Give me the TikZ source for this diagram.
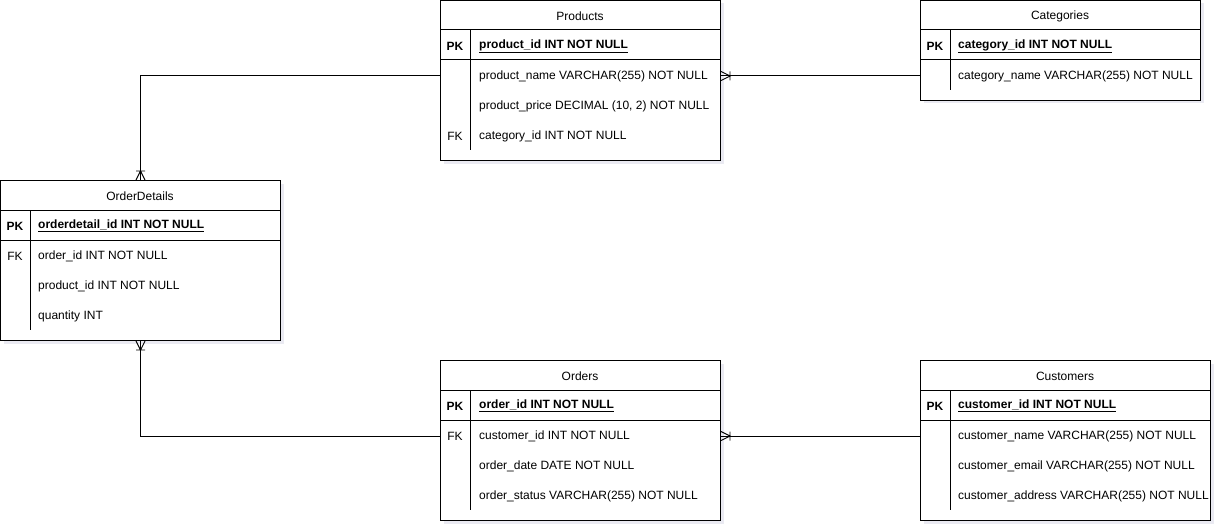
\documentclass[tikz,border=0pt]{standalone}
\usepackage{fontspec}
\setmainfont{Liberation Sans}
\usetikzlibrary{shadows}
\newcommand\erfnt{\fontsize{12}{14}\selectfont}
\newcommand\pkf[1]{\underline{\textbf{#1}}}
\begin{document}
\begin{tikzpicture}[x=1pt,y=-1pt,
  tbl/.style={draw, fill=white, line width=1pt, anchor=north west, inner sep=0pt,
    drop shadow={shadow xshift=3pt, shadow yshift=-3pt, opacity=0.2, fill=black!60!blue!40}},
  sep/.style={line width=1pt},
  txt/.style={inner sep=0pt, font=\erfnt, yshift=-1pt},
  fld/.style={txt, anchor=west},
  keyc/.style={txt, font=\erfnt\bfseries},
  keyf/.style={txt},
  ttl/.style={txt},
  conn/.style={line width=1pt},
  crow/.pic={\draw[line width=0.9pt] (0,-4.5) -- (9,0) -- (0,4.5) (9,-4.5) -- (9,4.5);}
]
\useasboundingbox[fill=white] (0,0) rectangle (1222,532);

% ---------- Products ----------
\node[tbl, minimum width=280pt, minimum height=160pt] (products) at (440,0) {};
\draw[sep] (440,30) -- (720,30) (440,60) -- (720,60) (470,30) -- (470,150);
\node[ttl] (products-t) at (580,15) {Products};
\node[keyc] (products-pk) at (455,45) {PK};
\node[fld] (pid) at (479,45) {\pkf{product\_id INT NOT NULL}};
\node[fld] (pname) at (479,75) {product\_name VARCHAR(255) NOT NULL};
\node[fld] (pprice) at (479,105) {product\_price DECIMAL (10, 2) NOT NULL};
\node[keyf] (products-fk) at (455,135) {FK};
\node[fld] (pcat) at (479,135) {category\_id INT NOT NULL};

% ---------- Categories ----------
\node[tbl, minimum width=280pt, minimum height=100pt] (categories) at (920,0) {};
\draw[sep] (920,30) -- (1200,30) (920,60) -- (1200,60) (950,30) -- (950,90);
\node[ttl] (categories-t) at (1060,15) {Categories};
\node[keyc] (categories-pk) at (935,45) {PK};
\node[fld] (cid) at (958,45) {\pkf{category\_id INT NOT NULL}};
\node[fld] (cname) at (958,75) {category\_name VARCHAR(255) NOT NULL};

% ---------- OrderDetails ----------
\node[tbl, minimum width=280pt, minimum height=160pt] (od) at (0,180) {};
\draw[sep] (0,210) -- (280,210) (0,240) -- (280,240) (30,210) -- (30,330);
\node[ttl] (od-t) at (140,195) {OrderDetails};
\node[keyc] (od-pk) at (15,225) {PK};
\node[fld] (odid) at (38,225) {\pkf{orderdetail\_id INT NOT NULL}};
\node[keyf] (od-fk) at (15,255) {FK};
\node[fld] (odoid) at (38,255) {order\_id INT NOT NULL};
\node[fld] (odpid) at (38,285) {product\_id INT NOT NULL};
\node[fld] (odq) at (38,315) {quantity INT};

% ---------- Orders ----------
\node[tbl, minimum width=280pt, minimum height=160pt] (orders) at (440,360) {};
\draw[sep] (440,390) -- (720,390) (440,420) -- (720,420) (470,390) -- (470,510);
\node[ttl] (orders-t) at (580,375) {Orders};
\node[keyc] (orders-pk) at (455,405) {PK};
\node[fld] (oid) at (479,405) {\pkf{order\_id INT NOT NULL}};
\node[keyf] (orders-fk) at (455,435) {FK};
\node[fld] (ocid) at (479,435) {customer\_id INT NOT NULL};
\node[fld] (odate) at (479,465) {order\_date DATE NOT NULL};
\node[fld] (ostat) at (479,495) {order\_status VARCHAR(255) NOT NULL};

% ---------- Customers ----------
\node[tbl, minimum width=290pt, minimum height=160pt] (customers) at (920,360) {};
\draw[sep] (920,390) -- (1210,390) (920,420) -- (1210,420) (950,390) -- (950,510);
\node[ttl] (customers-t) at (1065,375) {Customers};
\node[keyc] (customers-pk) at (935,405) {PK};
\node[fld] (cuid) at (958,405) {\pkf{customer\_id INT NOT NULL}};
\node[fld] (cuname) at (958,435) {customer\_name VARCHAR(255) NOT NULL};
\node[fld] (cumail) at (958,465) {customer\_email VARCHAR(255) NOT NULL};
\node[fld] (cuaddr) at (958,495) {customer\_address VARCHAR(255) NOT NULL};

% ---------- Connectors ----------
\draw[conn] (products.west |- pname.west) -| (od.north);
\pic[rotate=90] at (od.north) {crow};

\draw[conn] (categories.west |- cname.west) -- (products.east |- cname.west);
\path (products.east |- cname.west) pic {crow};

\draw[conn] (orders.west |- ocid.west) -| (od.south);
\pic[rotate=-90] at (od.south) {crow};

\draw[conn] (customers.west |- cuname.west) -- (orders.east |- cuname.west);
\path (orders.east |- cuname.west) pic {crow};
\end{tikzpicture}
\end{document}
